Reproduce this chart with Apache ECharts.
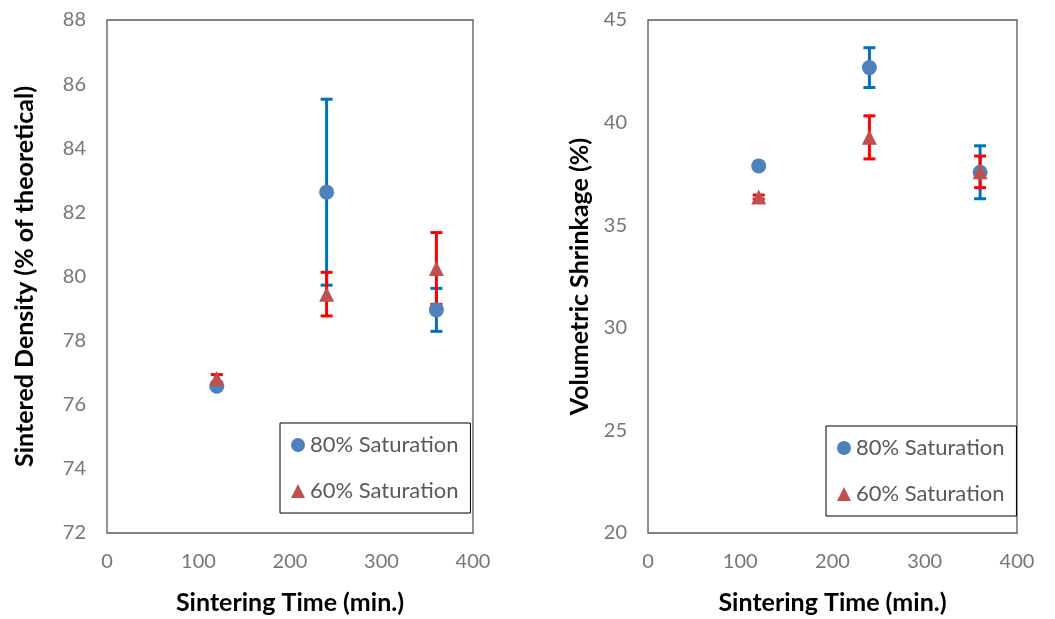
<!DOCTYPE html>
<html>
<head>
<meta charset="utf-8">
<script src="https://cdn.jsdelivr.net/npm/echarts@6/dist/echarts.min.js"></script>
<style>
  html, body { margin: 0; padding: 0; background: #fff; }
  #chart { width: 1055px; height: 619px; }
</style>
</head>
<body>
<div id="chart"></div>
<script>
  // sintering times (min.)
  var times = [120, 240, 360];
  // left: sintered density (% of theoretical)
  var density80 = [76.58, 82.63, 78.96];
  var density80Err = [0.05, 2.9, 0.67];
  var density60 = [76.82, 79.45, 80.25];
  var density60Err = [0.12, 0.68, 1.12];
  // right: volumetric shrinkage (%)
  var shrink80 = [37.89, 42.68, 37.58];
  var shrink80Err = [0.1, 0.97, 1.29];
  var shrink60 = [36.37, 39.28, 37.6];
  var shrink60Err = [0.1, 1.05, 0.77];

  var font = 'Lato';
  var blueMark = '#4F81BD', redMark = '#C0504D';
  var blueErr = '#0070C0', redErr = '#FF0000';

  function pts(vals) {
    return times.map(function (t, i) { return [t, vals[i]]; });
  }
  function errPts(vals, errs) {
    return times.map(function (t, i) { return [t, vals[i] - errs[i], vals[i] + errs[i]]; });
  }

  function errorSeries(name, vals, errs, color, gi) {
    return {
      type: 'custom',
      name: name,
      xAxisIndex: gi,
      yAxisIndex: gi,
      silent: true,
      data: errPts(vals, errs),
      renderItem: function (params, api) {
        var lo = api.coord([api.value(0), api.value(1)]);
        var hi = api.coord([api.value(0), api.value(2)]);
        var w = 6;
        var style = { stroke: color, lineWidth: 3 };
        return {
          type: 'group',
          children: [
            { type: 'line', shape: { x1: lo[0], y1: lo[1], x2: hi[0], y2: hi[1] }, style: style },
            { type: 'line', shape: { x1: lo[0] - w, y1: lo[1], x2: lo[0] + w, y2: lo[1] }, style: style },
            { type: 'line', shape: { x1: hi[0] - w, y1: hi[1], x2: hi[0] + w, y2: hi[1] }, style: style }
          ]
        };
      }
    };
  }

  function markSeries(name, vals, symbol, color, gi) {
    return {
      type: 'scatter',
      name: name,
      xAxisIndex: gi,
      yAxisIndex: gi,
      symbol: symbol,
      symbolSize: 15,
      itemStyle: { color: color, opacity: 1 },
      data: pts(vals)
    };
  }

  function xAxis(gi) {
    return {
      gridIndex: gi,
      type: 'value',
      min: 0, max: 400, interval: 100,
      axisLine: { show: false },
      axisTick: { show: false },
      splitLine: { show: false },
      axisLabel: { color: '#767676', fontSize: 20, fontFamily: font, margin: 19 },
      name: 'Sintering Time (min.)',
      nameLocation: 'middle',
      nameGap: 57,
      nameTextStyle: { color: '#000', fontSize: 25, fontWeight: 'bold', fontFamily: font }
    };
  }

  function yAxis(gi, min, max, step, title, gap) {
    return {
      gridIndex: gi,
      type: 'value',
      min: min, max: max, interval: step,
      axisLine: { show: false },
      axisTick: { show: false },
      splitLine: { show: false },
      axisLabel: { color: '#767676', fontSize: 20, fontFamily: font, margin: 21 },
      name: title,
      nameLocation: 'middle',
      nameGap: gap,
      nameTextStyle: { color: '#000', fontSize: 25, fontWeight: 'bold', fontFamily: font }
    };
  }

  function legend(left, top) {
    return {
      left: left, top: top,
      orient: 'vertical',
      itemWidth: 14, itemHeight: 14,
      itemGap: 24,
      padding: [11, 12, 11, 11],
      borderColor: '#000', borderWidth: 1,
      textStyle: { color: '#595959', fontSize: 22, fontFamily: font },
      data: [
        { name: '80% Saturation', icon: 'circle', itemStyle: { color: blueMark } },
        { name: '60% Saturation', icon: 'triangle', itemStyle: { color: redMark } }
      ],
      selectedMode: false
    };
  }

  var option = {
    animation: false,
    backgroundColor: '#fff',
    grid: [
      { left: 107, top: 20, width: 366, height: 513, outerBoundsMode: 'none', containLabel: false, show: true, borderColor: '#595959', borderWidth: 1.3, backgroundColor: 'transparent' },
      { left: 648, top: 20, width: 369, height: 513, outerBoundsMode: 'none', containLabel: false, show: true, borderColor: '#595959', borderWidth: 1.3, backgroundColor: 'transparent' }
    ],
    legend: [legend(280, 423), legend(826, 426)],
    xAxis: [xAxis(0), xAxis(1)],
    yAxis: [
      yAxis(0, 72, 88, 2, 'Sintered Density (% of theoretical)', 70),
      yAxis(1, 20, 45, 5, 'Volumetric Shrinkage (%)', 56)
    ],
    series: [
      errorSeries('80% Saturation', density80, density80Err, blueErr, 0),
      errorSeries('60% Saturation', density60, density60Err, redErr, 0),
      markSeries('80% Saturation', density80, 'circle', blueMark, 0),
      markSeries('60% Saturation', density60, 'triangle', redMark, 0),
      errorSeries('80% Saturation', shrink80, shrink80Err, blueErr, 1),
      errorSeries('60% Saturation', shrink60, shrink60Err, redErr, 1),
      markSeries('80% Saturation', shrink80, 'circle', blueMark, 1),
      markSeries('60% Saturation', shrink60, 'triangle', redMark, 1)
    ]
  };

  var chart = echarts.init(document.getElementById('chart'));
  chart.setOption(option);
</script>
</body>
</html>
